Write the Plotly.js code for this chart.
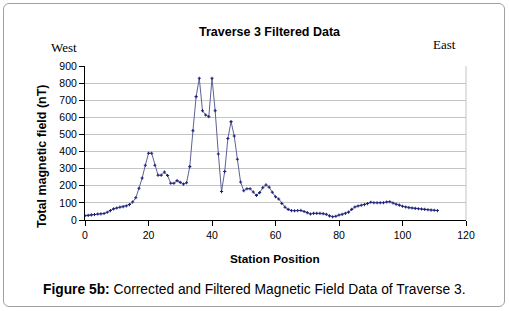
<!DOCTYPE html>
<html>
<head>
<meta charset="utf-8">
<script src="https://cdn.plot.ly/plotly-3.0.1.min.js"></script>
<style>
html,body{margin:0;padding:0;background:#fff;}
#wrap{position:relative;width:509px;height:311px;}
#chart{width:509px;height:311px;}
#frame{position:absolute;left:3px;top:3px;width:500px;height:302px;border:1px solid #a0a0a0;border-radius:6px;pointer-events:none;}
</style>
</head>
<body>
<div id="wrap"><div id="chart"></div><div id="frame"></div></div>
<script>
var stations = [];
for (var i = 0; i <= 111; i++) stations.push(i);
var fieldValues = [25,27,30,32,35,36,38,45,55,65,
  70,75,78,82,90,105,130,185,245,320,
  390,390,320,262,262,280,260,215,215,230,
  220,210,218,312,522,721,828,639,614,604,
  828,639,386,166,283,476,575,491,355,222,
  171,183,183,164,144,160,189,205,192,162,
  136,123,97,75,62,55,54,55,56,50,
  43,35,39,39,39,37,33,24,19,22,
  29,33,39,46,62,76,82,86,90,96,
  104,101,101,101,101,105,107,99,92,87,
  80,76,72,70,68,66,64,62,60,58,
  57,55];
var xTicks = [0,20,40,60,80,100,120];
var yTicks = [0,100,200,300,400,500,600,700,800,900];

var L = 85, R = 466, T = 66, B = 220;
function px(x){return (x-L)/(R-L);}
function py(y){return (B-y)/(B-T);}
var sans = 'Arial, "Liberation Sans", sans-serif';
var serif = '"Times New Roman", "Liberation Serif", serif';

var trace = {
  x: stations, y: fieldValues, type: 'scatter', mode: 'lines+markers',
  line: {color: '#5d6198', width: 1},
  marker: {symbol: 'cross', size: 2.6, color: '#1c1f78'},
  hoverinfo: 'skip'
};
var layout = {
  width: 509, height: 311,
  margin: {l: L, r: 509-R, t: T, b: 311-B, pad: 0},
  paper_bgcolor: '#fff', plot_bgcolor: '#fff',
  showlegend: false,
  font: {family: sans, size: 10.5, color: '#000'},
  xaxis: {range: [0,120], tickvals: xTicks, ticks: 'outside', ticklen: 5, tickcolor: '#000',
    showline: true, linecolor: '#000', linewidth: 1, showgrid: false, zeroline: false,
    tickfont: {family: sans, size: 10.5}},
  yaxis: {range: [0,900], tickvals: yTicks, ticks: 'outside', ticklen: 5, tickcolor: '#000',
    showline: true, linecolor: '#000', linewidth: 1, showgrid: true, gridcolor: '#c4c4c4',
    gridwidth: 1, zeroline: false, tickfont: {family: sans, size: 10.5}},
  shapes: [{type: 'line', xref: 'paper', yref: 'paper', x0: 1, x1: 1, y0: 0, y1: 1,
    line: {color: '#c4c4c4', width: 1}}],
  annotations: [
    {text: '<b>Traverse 3 Filtered Data</b>', xref: 'paper', yref: 'paper', x: px(270), y: py(32),
      xanchor: 'center', yanchor: 'middle', showarrow: false, font: {family: sans, size: 12.5}},
    {text: 'West', xref: 'paper', yref: 'paper', x: px(64), y: py(47),
      xanchor: 'center', yanchor: 'middle', showarrow: false, font: {family: serif, size: 13}},
    {text: 'East', xref: 'paper', yref: 'paper', x: px(444), y: py(45),
      xanchor: 'center', yanchor: 'middle', showarrow: false, font: {family: serif, size: 13}},
    {text: '<b>Total magnetic field (nT)</b>', xref: 'paper', yref: 'paper', x: px(42), y: py(156),
      xanchor: 'center', yanchor: 'middle', textangle: -90, showarrow: false, font: {family: sans, size: 12.5}},
    {text: '<b>Station Position</b>', xref: 'paper', yref: 'paper', x: px(275), y: py(259),
      xanchor: 'center', yanchor: 'middle', showarrow: false, font: {family: sans, size: 11.8}},
    {text: '<b>Figure 5b:</b> Corrected and Filtered Magnetic Field Data of Traverse 3.', xref: 'paper', yref: 'paper',
      x: px(254), y: py(289), xanchor: 'center', yanchor: 'middle', showarrow: false,
      font: {family: sans, size: 13.8}}
  ]
};
Plotly.newPlot('chart', [trace], layout, {staticPlot: true, displayModeBar: false});
</script>
</body>
</html>
